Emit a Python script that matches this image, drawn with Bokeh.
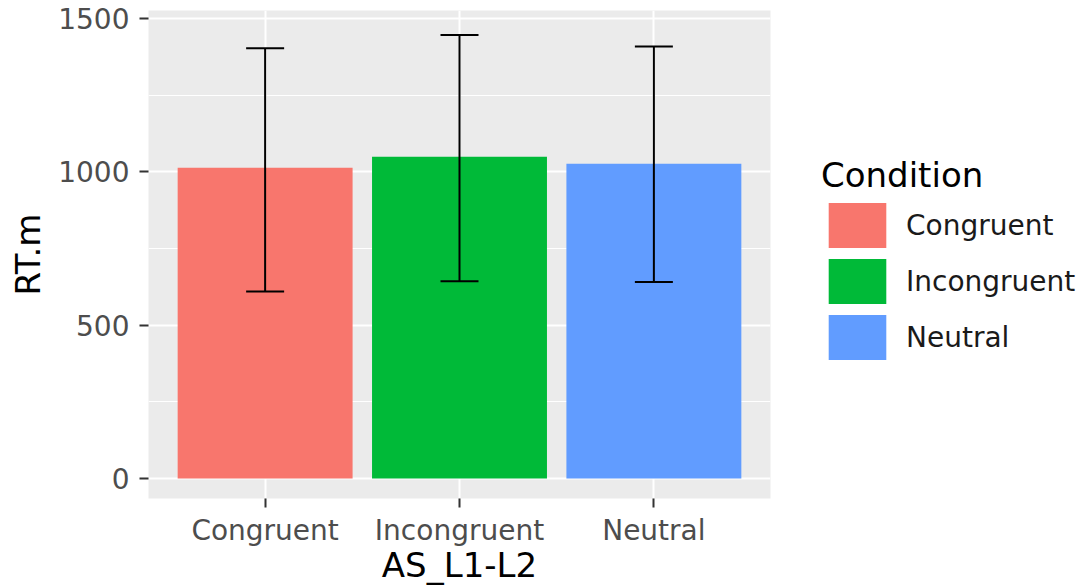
from bokeh.plotting import figure
from bokeh.models import (ColumnDataSource, FactorRange, FixedTicker, Whisker, TeeHead,
                          Legend, LegendItem)
from bokeh.transform import factor_cmap
from bokeh.embed import file_html
from bokeh.resources import INLINE

categories = ["Congruent", "Incongruent", "Neutral"]
rt_mean = [1013, 1049, 1026]
err_upper = [1403, 1446, 1409]
err_lower = [610, 643, 641]
colors = ["#F8766D", "#00BA38", "#619CFF"]
y_ticks = [0, 500, 1000, 1500]
y_minor = [250, 750, 1250]

src = ColumnDataSource(dict(cat=categories, mean=rt_mean, upper=err_upper, lower=err_lower))

FONT = "DejaVu Sans"

p = figure(frame_width=622, frame_height=488, output_backend="svg", toolbar_location=None,
           x_range=FactorRange(factors=categories, range_padding=0.2 / 3),
           y_range=(-65, 1526),
           min_border_left=148, min_border_right=0, min_border_top=10, min_border_bottom=0)

p.background_fill_color = "#EBEBEB"
p.border_fill_color = "white"
p.outline_line_color = None

r = p.vbar(x="cat", top="mean", bottom=0, width=0.9, source=src, line_color=None,
           fill_color=factor_cmap("cat", palette=colors, factors=categories))

wh = Whisker(base="cat", upper="upper", lower="lower", source=src, level="overlay",
             line_color="black", line_width=2,
             upper_head=TeeHead(size=38, line_color="black", line_width=2),
             lower_head=TeeHead(size=38, line_color="black", line_width=2))
p.add_layout(wh)

p.yaxis.ticker = FixedTicker(ticks=y_ticks, minor_ticks=y_minor)
p.ygrid.grid_line_color = "white"
p.ygrid.grid_line_width = 2
p.ygrid.minor_grid_line_color = "white"
p.ygrid.minor_grid_line_width = 1
p.xgrid.grid_line_color = "white"
p.xgrid.grid_line_width = 2

for ax in (p.xaxis[0], p.yaxis[0]):
    ax.axis_line_color = None
    ax.major_tick_line_color = "#333333"
    ax.major_tick_line_width = 2
    ax.major_tick_out = 9
    ax.major_tick_in = 0
    ax.minor_tick_line_color = None
    ax.major_label_text_font = FONT
    ax.major_label_text_font_size = "28px"
    ax.major_label_text_color = "#4D4D4D"
    ax.axis_label_text_font = FONT
    ax.axis_label_text_font_size = "34px"
    ax.axis_label_text_font_style = "normal"
    ax.axis_label_text_color = "black"

p.xaxis.axis_label = "AS_L1-L2"
p.yaxis.axis_label = "RT.m"
p.xaxis.major_label_standoff = 6
p.xaxis.axis_label_standoff = -5
p.yaxis.major_label_standoff = 10
p.yaxis.axis_label_standoff = 7

legend = Legend(items=[LegendItem(label=dict(field="cat"), renderers=[r])],
                title="Condition", location=(51, 133),
                glyph_width=72, glyph_height=56, spacing=0,
                label_standoff=13, padding=8, margin=0,
                border_line_color=None, background_fill_color="white",
                label_text_font=FONT, label_text_font_size="28px", label_text_color="#1A1A1A",
                title_text_font=FONT, title_text_font_size="34px", title_text_font_style="normal",
                title_text_color="black", title_standoff=2)
p.add_layout(legend, "right")

open("out.html", "w").write(file_html(p, INLINE))
